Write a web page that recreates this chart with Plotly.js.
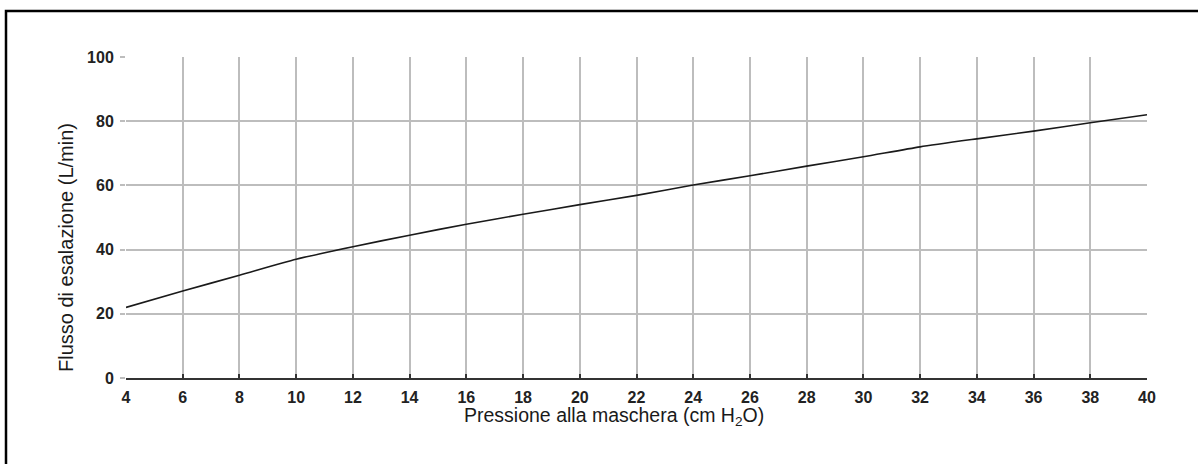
<!DOCTYPE html>
<html>
<head>
<meta charset="utf-8">
<script src="https://cdn.plot.ly/plotly-3.0.1.min.js"></script>
<style>
  html, body { margin: 0; padding: 0; background: #fff; }
  #chart { width: 1198px; height: 464px; }
</style>
</head>
<body>
<div id="chart"></div>
<script>
// Pressione alla maschera (cm H2O)
const pressure = [4, 6, 8, 10, 12, 14, 16, 18, 20, 22, 24, 26, 28, 30, 32, 34, 36, 38, 40];
// Flusso di esalazione (L/min)
const flow = [22, 27.1, 32, 37, 40.9, 44.5, 47.9, 51, 54, 56.9, 60.1, 63, 66, 68.9, 72, 74.5, 76.9, 79.5, 82];

const xTitle = 'Pressione alla maschera (cm H<sub>2</sub>O)';
const yTitle = 'Flusso di esalazione (L/min)';

const W = 1198, H = 464;
const mL = 126, mR = 51, mT = 57, mB = 86;
const pw = W - mL - mR, ph = H - mT - mB;
const px = v => (v - mL) / pw;      // pixel -> paper x
const py = v => (H - mB - v) / ph;  // pixel -> paper y

const trace = {
  x: pressure,
  y: flow,
  type: 'scatter',
  mode: 'lines',
  line: { color: '#1a1a1a', width: 1.6, shape: 'spline', smoothing: 0.6 },
  hoverinfo: 'x+y'
};

const font = 'Liberation Sans, Arial, Helvetica, sans-serif';
const tickFont = { family: font, size: 16, color: '#222', weight: 'bold' };
const gridCol = '#bdbdbd';

const layout = {
  width: W, height: H,
  margin: { l: mL, r: mR, t: mT, b: mB, pad: 0 },
  paper_bgcolor: '#fff',
  plot_bgcolor: '#fff',
  showlegend: false,
  font: { family: font, color: '#111', size: 15 },
  xaxis: {
    range: [4, 40],
    tick0: 4, dtick: 2,
    showgrid: true, gridcolor: gridCol, gridwidth: 2,
    zeroline: false,
    showline: true, linecolor: '#333', linewidth: 2,
    ticks: 'inside', ticklen: 4, tickwidth: 2, tickcolor: '#333',
    tickfont: tickFont,
    ticklabelstandoff: 4,
    fixedrange: true
  },
  yaxis: {
    range: [0, 100],
    tick0: 0, dtick: 20,
    showgrid: true, gridcolor: gridCol, gridwidth: 2,
    zeroline: false,
    showline: false,
    ticks: 'outside', ticklen: 5, tickwidth: 2, tickcolor: gridCol,
    tickfont: tickFont,
    ticklabelstandoff: 3,
    fixedrange: true
  },
  annotations: [
    {
      xref: 'paper', yref: 'paper',
      x: px(614), y: py(417),
      xanchor: 'center', yanchor: 'middle',
      text: xTitle, showarrow: false,
      font: { family: font, size: 19.5, color: '#1a1a1a' }
    },
    {
      xref: 'paper', yref: 'paper',
      x: px(66), y: py(248),
      xanchor: 'center', yanchor: 'middle',
      textangle: -90,
      text: yTitle, showarrow: false,
      font: { family: font, size: 20, color: '#1a1a1a' }
    }
  ],
  shapes: [
    {
      type: 'path', xref: 'paper', yref: 'paper',
      path: 'M ' + px(6) + ' ' + py(470) + ' L ' + px(6) + ' ' + py(11) + ' L ' + px(1205) + ' ' + py(11),
      line: { color: '#000', width: 2.5 },
      layer: 'above'
    }
  ]
};

Plotly.newPlot('chart', [trace], layout, { displayModeBar: false, staticPlot: true });
</script>
</body>
</html>
